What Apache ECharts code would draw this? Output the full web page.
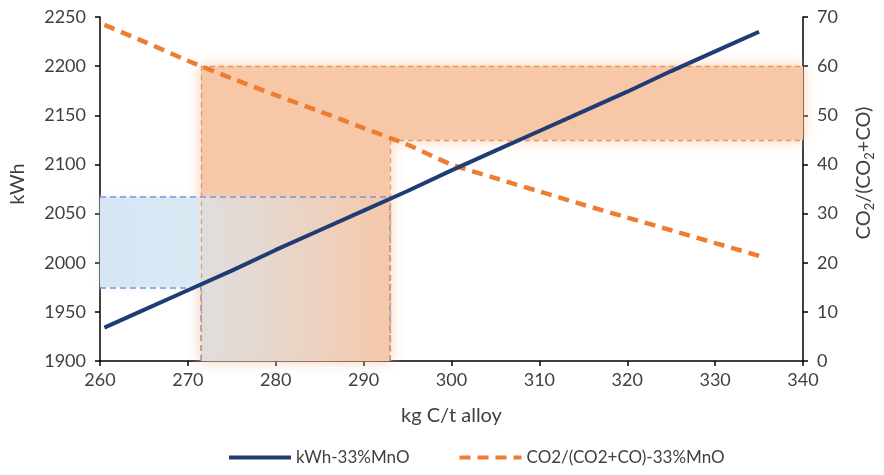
<!DOCTYPE html>
<html>
<head>
<meta charset="utf-8">
<script src="https://cdn.jsdelivr.net/npm/echarts@6/dist/echarts.min.js"></script>
<style>html,body{margin:0;padding:0;background:#fff;}#c{width:884px;height:475px;}</style>
</head>
<body>
<div id="c"></div>
<script>
// ---- data ----
const kgC   = [260.5, 265, 270, 275, 280, 285, 290, 295, 300, 305, 310, 315, 320, 325, 330, 335];
const kWh   = [1934, 1952, 1972, 1992, 2013, 2033, 2053, 2073, 2094, 2114, 2134, 2154, 2174, 2195, 2215, 2235];
const ratio = [68.4, 65.0, 61.1, 57.5, 54.1, 50.8, 47.4, 44.0, 40.0, 37.2, 34.5, 31.8, 29.2, 26.6, 24.0, 21.4];
// operating window
const windowKgC   = [271.5, 293];
const windowKWh   = [1975, 2067];
const windowRatio = [45, 60];
// axes
const xTicks = [260, 340, 10];
const kWhTicks = [1900, 2250, 50];
const ratioTicks = [0, 70, 10];
const seriesNames = ['kWh-33%MnO', 'CO2/(CO2+CO)-33%MnO'];

const FONT = 'Lato';
const TXT = '#404040';
const chart = echarts.init(document.getElementById('c'));

function polyItem(api, pts, style) {
  return {
    type: 'polygon',
    shape: { points: pts.map(p => api.coord(p)) },
    style: style,
    silent: true
  };
}

const orangeL = [
  [windowKgC[0], ratioTicks[0]], [windowKgC[0], windowRatio[1]],
  [xTicks[1], windowRatio[1]], [xTicks[1], windowRatio[0]],
  [windowKgC[1], windowRatio[0]], [windowKgC[1], ratioTicks[0]]
];
const blueL = [
  [xTicks[0], windowKWh[0]], [xTicks[0], windowKWh[1]],
  [windowKgC[1], windowKWh[1]], [windowKgC[1], kWhTicks[0]],
  [windowKgC[0], kWhTicks[0]], [windowKgC[0], windowKWh[0]]
];

const option = {
  animation: false,
  textStyle: { fontFamily: FONT },
  grid: { left: 97, right: 75, top: 17, bottom: 114 },
  xAxis: {
    type: 'value', min: xTicks[0], max: xTicks[1], interval: xTicks[2],
    name: 'kg C/t alloy', nameLocation: 'middle', nameGap: 45,
    nameTextStyle: { fontSize: 20, color: TXT, fontFamily: FONT },
    axisLine: { lineStyle: { color: '#000', width: 1.5 } },
    axisTick: { length: 5, lineStyle: { color: '#000', width: 1.5 } },
    axisLabel: { fontSize: 18, color: TXT, margin: 10, fontFamily: FONT },
    splitLine: { show: false }
  },
  yAxis: [
    {
      type: 'value', min: kWhTicks[0], max: kWhTicks[1], interval: kWhTicks[2],
      position: 'left',
      name: 'kWh', nameLocation: 'middle', nameGap: 72, nameRotate: 90,
      nameTextStyle: { fontSize: 20, color: TXT, fontFamily: FONT, padding: [0, 0, 0, 10] },
      axisLine: { show: true, lineStyle: { color: '#000', width: 1.5 } },
      axisTick: { show: true, length: 5, lineStyle: { color: '#000', width: 1.5 } },
      axisLabel: { fontSize: 18, color: TXT, margin: 14, fontFamily: FONT, formatter: v => String(v) },
      splitLine: { show: false }
    },
    {
      type: 'value', min: ratioTicks[0], max: ratioTicks[1], interval: ratioTicks[2],
      position: 'right',
      name: '{a|CO}{s|2}{a|/(CO}{s|2}{a|+CO)}', nameLocation: 'middle', nameGap: 48, nameRotate: 90,
      nameTextStyle: {
        color: TXT, fontFamily: FONT, padding: [0, 0, 0, 32],
        rich: {
          a: { fontSize: 20, color: TXT, fontFamily: FONT },
          s: { fontSize: 13, color: TXT, fontFamily: FONT, padding: [12, 0, 0, 0] }
        }
      },
      axisLine: { show: true, lineStyle: { color: '#000', width: 1.5 } },
      axisTick: { show: true, length: 5, lineStyle: { color: '#000', width: 1.5 } },
      axisLabel: { fontSize: 18, color: TXT, margin: 14, fontFamily: FONT },
      splitLine: { show: false }
    }
  ],
  legend: {
    bottom: 4, left: 222, itemWidth: 62, itemHeight: 14, itemGap: 48,
    textStyle: { fontSize: 17, color: TXT, fontFamily: FONT },
    itemStyle: { opacity: 0 },
    lineStyle: { width: 4 },
    data: seriesNames
  },
  series: [
    {
      type: 'custom', yAxisIndex: 1, z: 1, silent: true,
      data: [[windowKgC[0], windowKgC[1], windowRatio[0], windowRatio[1]]],
      encode: { x: [0, 1], y: [2, 3] },
      renderItem: (params, api) => polyItem(api, orangeL, {
        fill: '#F6C8A8',
        shadowBlur: 14, shadowColor: 'rgba(244,190,150,0.8)'
      })
    },
    {
      type: 'custom', yAxisIndex: 0, z: 2, silent: true,
      data: [[windowKgC[0], windowKgC[1], windowKWh[0], windowKWh[1]]],
      encode: { x: [0, 1], y: [2, 3] },
      renderItem: (params, api) => polyItem(api, blueL, {
        fill: new echarts.graphic.LinearGradient(0, 0, 1, 0, [
          { offset: 0, color: 'rgba(214,231,243,1)' },
          { offset: 0.33, color: 'rgba(214,231,243,0.85)' },
          { offset: 0.36, color: 'rgba(214,231,243,0.55)' },
          { offset: 1, color: 'rgba(214,231,243,0.0)' }
        ]),
        shadowBlur: 8, shadowColor: 'rgba(214,231,243,0.6)'
      })
    },
    {
      name: seriesNames[0], type: 'line', yAxisIndex: 0, z: 6,
      data: kgC.map((x, i) => [x, kWh[i]]),
      symbol: 'none', showSymbol: false,
      lineStyle: { color: '#203C74', width: 4 },
      itemStyle: { color: '#203C74' },
      markLine: {
        silent: true, symbol: ['none', 'none'], label: { show: false },
        lineStyle: { color: '#7F95D2', width: 1.5, type: [6, 4] },
        data: [
          [{ coord: [xTicks[0], windowKWh[1]] }, { coord: [windowKgC[1], windowKWh[1]] }],
          [{ coord: [xTicks[0], windowKWh[0]] }, { coord: [windowKgC[0], windowKWh[0]] }],
          [{ coord: [windowKgC[0], kWhTicks[0]] }, { coord: [windowKgC[0], windowKWh[0]] }],
          [{ coord: [windowKgC[1], kWhTicks[0]] }, { coord: [windowKgC[1], windowKWh[1]] }]
        ]
      }
    },
    {
      name: seriesNames[1], type: 'line', yAxisIndex: 1, z: 5,
      data: kgC.map((x, i) => [x, ratio[i]]),
      symbol: 'none', showSymbol: false, smooth: 0.3,
      lineStyle: { color: '#ED7D31', width: 4.5, type: [11, 7] },
      itemStyle: { color: '#ED7D31' },
      markLine: {
        silent: true, symbol: ['none', 'none'], label: { show: false },
        lineStyle: { color: '#F0955A', width: 1.3, type: [5, 4] },
        data: [
          [{ coord: [windowKgC[0], windowRatio[1]] }, { coord: [xTicks[1], windowRatio[1]] }],
          [{ coord: [windowKgC[1], windowRatio[0]] }, { coord: [xTicks[1], windowRatio[0]] }],
          [{ coord: [windowKgC[0], windowRatio[1]] }, { coord: [windowKgC[0], ratioTicks[0]] }],
          [{ coord: [windowKgC[1], windowRatio[0]] }, { coord: [windowKgC[1], ratioTicks[0]] }]
        ]
      }
    }
  ]
};
chart.setOption(option);
</script>
</body>
</html>
